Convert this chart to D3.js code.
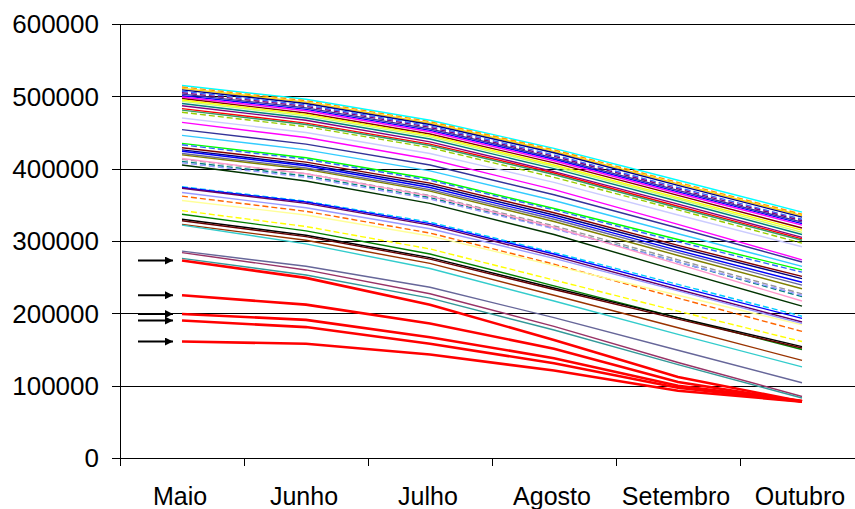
<!DOCTYPE html>
<html>
<head>
<meta charset="utf-8">
<script src="https://cdn.jsdelivr.net/npm/d3@7"></script>
<style>
  body { margin: 0; background: #fff; }
  text { font-family: "Liberation Sans", Arial, sans-serif; }
</style>
</head>
<body>
<svg></svg>
<script>
var months = ["Maio", "Junho", "Julho", "Agosto", "Setembro", "Outubro"];
var yTicks = [0, 100000, 200000, 300000, 400000, 500000, 600000];

// thin series, values in thousands (Maio..Outubro)
var series = [
    [515, 496, 467, 428, 384, 340],
    [513, 494, 465, 426, 381, 337],
    [511, 492, 463, 424, 379, 335],
    [509, 490, 461, 422, 377, 333],
    [507, 488, 459, 419, 374, 330],
    [505, 486, 457, 417, 372, 328],
    [503, 484, 455, 415, 370, 326],
    [501, 482, 453, 413, 368, 324],
    [499, 480, 451, 411, 366, 322],
    [497, 477, 448, 408, 363, 318],
    [495, 475, 446, 405, 360, 315],
    [493, 473, 444, 403, 358, 312],
    [490, 470, 441, 400, 355, 309],
    [487, 467, 437, 396, 351, 305],
    [483, 463, 434, 394, 348, 303],
    [481, 461, 432, 392, 346, 301],
    [478, 458, 429, 388, 343, 297],
    [470, 450, 421, 381, 336, 292],
    [464, 443, 413, 371, 323, 274],
    [454, 434, 405, 364, 318, 271],
    [446, 426, 397, 356, 310, 265],
    [435, 415, 386, 345, 302, 260],
    [433, 413, 384, 343, 299, 257],
    [429, 409, 380, 339, 294, 251],
    [426, 406, 377, 336, 291, 248],
    [424, 404, 374, 333, 287, 243],
    [421, 401, 371, 330, 284, 239],
    [419, 399, 369, 327, 280, 234],
    [413, 393, 363, 321, 274, 227],
    [410, 390, 360, 318, 271, 223],
    [408, 388, 358, 317, 271, 225],
    [414, 393, 362, 319, 268, 217],
    [405, 383, 352, 309, 259, 210],
    [375, 355, 326, 284, 240, 196],
    [374, 354, 324, 282, 237, 193],
    [373, 352, 322, 279, 233, 188],
    [367, 346, 317, 276, 231, 186],
    [362, 341, 311, 268, 221, 175],
    [356, 336, 307, 266, 225, 184],
    [342, 320, 289, 246, 203, 161],
    [337, 314, 282, 238, 194, 150],
    [330, 308, 277, 235, 194, 154],
    [328, 306, 275, 233, 192, 152],
    [323, 301, 269, 225, 180, 135],
    [322, 296, 262, 217, 171, 126],
    [286, 265, 236, 194, 149, 104],
    [284, 260, 227, 182, 132, 85],
    [276, 253, 221, 177, 129, 83]
];

// highlighted series (red, with arrows)
var redSeries = [
    [273, 249, 212, 163, 112, 78],
    [225, 212, 186, 151, 105, 78],
    [199, 191, 167, 138, 100, 79],
    [190, 181, 158, 131, 97, 78],
    [161, 158, 143, 121, 93, 78]
];

var seriesColors = ["#00FFFF", "#FF9900", "#FFCC00", "#000080", "#3366FF", "#800080", "#333399", "#0000FF",
    "#FF00FF", "#800000", "#FFFF00", "#CCFF66", "#008080", "#800080", "#FF0000", "#339966", "#99CC00",
    "#CCCCFF", "#FF00FF", "#333399", "#33CCFF", "#00FF00", "#3366FF", "#800000", "#000080", "#0000FF",
    "#666699", "#808000", "#969696", "#008080", "#9999FF", "#FF99CC", "#003300", "#00CCFF", "#0000FF",
    "#660066", "#9999FF", "#FF6600", "#FFFF99", "#FFFF00", "#008000", "#000000", "#660000", "#993300",
    "#33CCCC", "#666699", "#993366", "#339999"];
var seriesDashed = [0, 1, 0, 0, 1, 1, 0, 0, 0, 0, 0, 0, 0, 0, 0, 0, 1, 0, 0, 0, 0, 0, 1, 0, 0, 0, 0, 0,
    1, 1, 1, 0, 0, 1, 0, 0, 0, 1, 0, 1, 0, 0, 0, 0, 0, 0, 0, 0];

var svgWidth = 855,
    svgHeight = 509;

var svg = d3.select("svg")
    .attr("width", svgWidth)
    .attr("height", svgHeight);

var xBand = d3.scaleBand()
    .domain(months)
    .range([120, 864]);

var yScale = d3.scaleLinear()
    .domain([0, 600000])
    .range([458, 24]);

function xPos(m) {
    return xBand(m) + xBand.bandwidth() / 2;
}

// gridlines + y ticks
svg.selectAll("line.grid")
    .data(yTicks)
    .enter()
    .append("line")
    .attr("class", "grid")
    .attr("x1", 112)
    .attr("x2", svgWidth)
    .attr("y1", function (d) { return Math.round(yScale(d)) + 0.5; })
    .attr("y2", function (d) { return Math.round(yScale(d)) + 0.5; })
    .attr("stroke", "#000")
    .attr("stroke-width", 1);

svg.selectAll("text.ylab")
    .data(yTicks)
    .enter()
    .append("text")
    .attr("class", "ylab")
    .attr("x", 99)
    .attr("y", function (d) { return yScale(d); })
    .attr("dy", "0.36em")
    .attr("text-anchor", "end")
    .attr("font-size", 26)
    .text(function (d) { return d; });

// y axis line
svg.append("line")
    .attr("x1", 120.5).attr("x2", 120.5)
    .attr("y1", yScale(600000)).attr("y2", 466)
    .attr("stroke", "#000");

// x ticks at band edges
svg.selectAll("line.xtick")
    .data(months)
    .enter()
    .append("line")
    .attr("class", "xtick")
    .attr("x1", function (d) { return Math.round(xBand(d)) + 0.5; })
    .attr("x2", function (d) { return Math.round(xBand(d)) + 0.5; })
    .attr("y1", yScale(0))
    .attr("y2", yScale(0) + 8)
    .attr("stroke", "#000");

svg.selectAll("text.xlab")
    .data(months)
    .enter()
    .append("text")
    .attr("class", "xlab")
    .attr("x", function (d) { return xPos(d) - 2; })
    .attr("y", 505)
    .attr("text-anchor", "middle")
    .attr("font-size", 25)
    .text(function (d) { return d; });

var line = d3.line()
    .x(function (d, i) { return xPos(months[i]); })
    .y(function (d) { return yScale(d * 1000); });

svg.selectAll("path.serie")
    .data(series)
    .enter()
    .append("path")
    .attr("class", "serie")
    .attr("d", line)
    .attr("fill", "none")
    .attr("stroke", function (d, i) { return seriesColors[i]; })
    .attr("stroke-width", 1.4)
    .attr("stroke-dasharray", function (d, i) { return seriesDashed[i] ? "6,3" : null; });

svg.selectAll("path.red")
    .data(redSeries)
    .enter()
    .append("path")
    .attr("class", "red")
    .attr("d", line)
    .attr("fill", "none")
    .attr("stroke", "#FF0000")
    .attr("stroke-width", 2.6);

// arrows pointing at red series
svg.append("defs").append("marker")
    .attr("id", "arrow")
    .attr("viewBox", "0 0 10 10")
    .attr("refX", 10)
    .attr("refY", 5)
    .attr("markerWidth", 5)
    .attr("markerHeight", 4)
    .attr("markerUnits", "strokeWidth")
    .attr("orient", "auto")
    .append("path")
    .attr("d", "M0,0L10,5L0,10Z")
    .attr("fill", "#000");

svg.selectAll("line.arrow")
    .data(redSeries)
    .enter()
    .append("line")
    .attr("class", "arrow")
    .attr("x1", 138)
    .attr("x2", 173)
    .attr("y1", function (d) { return yScale(d[0] * 1000); })
    .attr("y2", function (d) { return yScale(d[0] * 1000); })
    .attr("stroke", "#000")
    .attr("stroke-width", 2)
    .attr("marker-end", "url(#arrow)");
</script>
</body>
</html>
